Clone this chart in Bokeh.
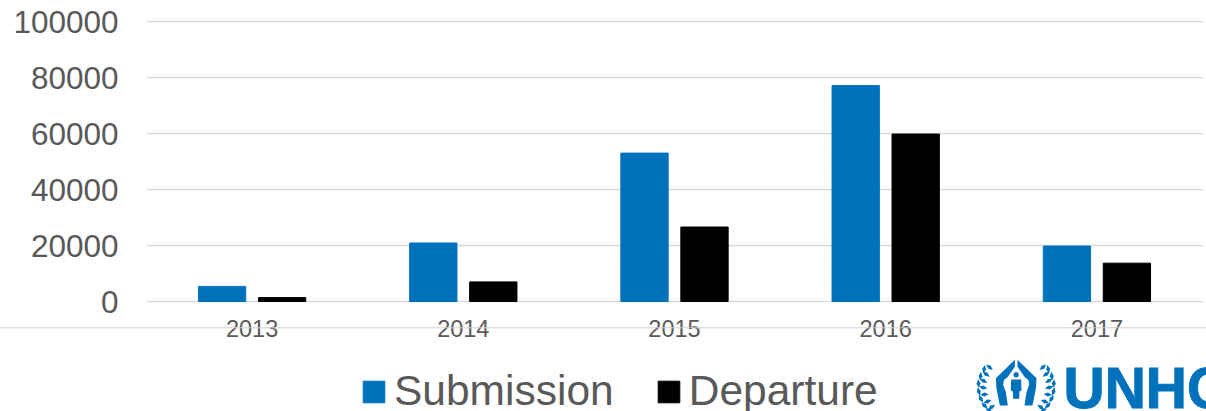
import math
from bokeh.plotting import figure
from bokeh.embed import file_html
from bokeh.resources import INLINE
from bokeh.models import ColumnDataSource, FixedTicker, Legend, LegendItem, Label, PolyAnnotation, Span
from bokeh.transform import dodge

years = ["2013", "2014", "2015", "2016", "2017"]
submission = [5400, 20900, 53000, 77100, 19800]
departure = [1400, 7000, 26600, 59800, 13700]
y_ticks = [0, 20000, 40000, 60000, 80000, 100000]

BLUE = "#0072BC"
GREY = "#595959"
W, H = 1206, 411
idx = list(range(len(years)))
src = ColumnDataSource(dict(i=idx, sub=submission, dep=departure))

# the frame fills the page; the ranges place the plot area at x 146-1202, y 21-301
cat_px = (1202 - 146) / 5
x0 = -(146 + cat_px / 2) / cat_px
x1 = x0 + W / cat_px
val_per_px = 100000 / 280
y1 = 301 * val_per_px
y0 = -(H - 301) * val_per_px

p = figure(width=W, height=H, x_range=(x0, x1), y_range=(y0, y1), output_backend="svg", toolbar_location=None,
           min_border_left=0, min_border_right=0, min_border_top=0, min_border_bottom=0)
p.outline_line_color = None

# horizontal value rules limited to the plot area
p.segment(x0=[-0.5] * len(y_ticks), x1=[len(years) - 0.5] * len(y_ticks), y0=y_ticks, y1=y_ticks,
          line_color="#D9D9D9", line_width=1.6)

r1 = p.vbar(x=dodge("i", -0.142), top="sub", width=0.224, source=src, color=BLUE)
r2 = p.vbar(x=dodge("i", 0.142), top="dep", width=0.224, source=src, color="black")

p.xgrid.visible = False
p.ygrid.visible = False
p.yaxis.ticker = FixedTicker(ticks=y_ticks)
p.yaxis.formatter.use_scientific = False
p.yaxis.fixed_location = -0.5
p.xaxis.ticker = FixedTicker(ticks=idx)
p.xaxis.major_label_overrides = {i: y for i, y in zip(idx, years)}
p.xaxis.fixed_location = 0
for ax in (p.xaxis[0], p.yaxis[0]):
    ax.axis_line_color = None
    ax.major_tick_line_color = None
    ax.minor_tick_line_color = None
    ax.major_label_text_font = "Liberation Sans"
    ax.major_label_text_color = GREY
p.yaxis.major_label_text_font_size = "31.5px"
p.yaxis.major_label_standoff = 22
p.xaxis.major_label_text_font_size = "23.5px"
p.xaxis.major_label_standoff = 12

# thin rule running through the category labels, page-wide
p.add_layout(Span(location=-(327.3 - 301) * val_per_px, dimension="width", line_color="#D0D0D0", line_width=1, level="overlay"))

legend = Legend(items=[LegendItem(label="Submission", renderers=[r1]), LegendItem(label="Departure", renderers=[r2])],
                orientation="horizontal", location=(360, -4), padding=0, margin=0, spacing=41,
                glyph_width=27, glyph_height=27, label_standoff=7, label_text_font="Liberation Sans",
                label_text_font_size="42.5px", label_text_color=GREY, background_fill_alpha=0,
                border_line_color=None, label_height=27)
p.add_layout(legend, "center")

# logo: wordmark, cut by the page's right edge as in the reference
p.add_layout(Label(x=1063, y=H - 408 + 21, x_units="screen", y_units="screen", text="UNHCR", text_font="Liberation Sans",
                   text_font_style="bold", text_font_size="57px", text_color=BLUE, text_baseline="alphabetic",
                   text_outline_color=BLUE))

# logo: emblem, outlined in zoomed-crop pixels (3x, origin 970,355)
def to_page(pts):
    return [970 + a / 3 for a, _ in pts], [355 + b / 3 for _, b in pts]

def mirror(pts, c=137):
    return [(2 * c - a, b) for a, b in pts]

def poly(pts):
    xs, ys = to_page(pts)
    p.add_layout(PolyAnnotation(xs=xs, ys=ys, xs_units="canvas", ys_units="canvas",
                                fill_color=BLUE, fill_alpha=1, line_color=None))

hand = [(133, 13), (76, 68), (78, 100), (88, 150), (112, 150), (106, 110), (98, 88), (100, 74), (112, 64), (133, 34)]
poly(hand)
poly(mirror(hand))
body = [(122, 72), (152, 72), (153, 105), (147, 108), (146, 130), (128, 130), (127, 108), (121, 105)]
poly(body)
n = 16
head = [(137 + 8 * math.cos(2 * math.pi * k / n), 58 + 8 * math.sin(2 * math.pi * k / n)) for k in range(n)]
poly(head)

leaves = [(57, 35, -50), (41, 41, 10), (47, 56, -55), (30, 62, 5), (39, 76, -60), (24, 84, -5),
          (38, 96, -75), (25, 108, -15), (42, 117, -95), (31, 130, -30), (51, 138, -110), (42, 150, -45),
          (63, 155, -125), (56, 165, -60)]
def leaf(cx, cy, deg, ln=13, wd=6):
    t = math.radians(deg)
    ux, uy = math.sin(t), -math.cos(t)
    vx, vy = -uy, ux
    return [(cx + ux * ln, cy + uy * ln), (cx + vx * wd, cy + vy * wd), (cx - ux * ln, cy - uy * ln), (cx - vx * wd, cy - vy * wd)]
for cx, cy, deg in leaves:
    pts = leaf(cx, cy, deg)
    poly(pts)
    poly(mirror(pts))

open("out.html", "w").write(file_html(p, INLINE))
